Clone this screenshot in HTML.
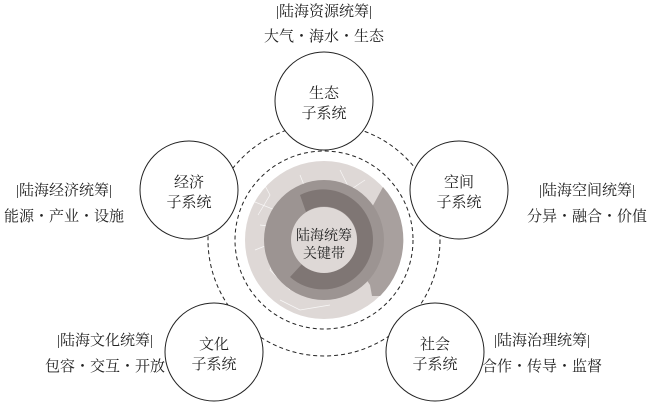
<!DOCTYPE html>
<html><head><meta charset="utf-8"><style>
html,body{margin:0;padding:0;background:#fff;}
svg text{font-family:"Liberation Serif","Noto Serif CJK SC",serif;fill:#222;}
</style></head><body>
<svg width="650" height="404" viewBox="0 0 650 404" xmlns="http://www.w3.org/2000/svg">
<circle cx="324" cy="240" r="116" fill="none" stroke="#222" stroke-width="1" stroke-dasharray="4,3"/>
<circle cx="324" cy="240" r="89" fill="none" stroke="#222" stroke-width="1" stroke-dasharray="4,3"/>
<circle cx="324" cy="240" r="79" fill="#ded8d6"/>
<path d="M383 187 A79 79 0 0 1 380 296 L372 296 L370 285 L360 270 L365 220 Z" fill="#a8a09e"/>
<g stroke="#fff" stroke-width="0.7" fill="none" opacity="0.8">
<path d="M250 200 L275 210 L300 195 L320 205"/><path d="M255 250 L280 240 L270 270 L290 290"/>
<path d="M300 175 L310 200 L295 230"/><path d="M260 225 L285 228"/><path d="M340 170 L350 190 L365 180"/>
<path d="M280 300 L300 310 L330 305"/><path d="M262 180 L270 195 L258 215"/>
</g>
<circle cx="324" cy="240" r="60" fill="#9c9492"/>
<path d="M300 195 A50 50 0 1 1 290 277 L302 264 A33 33 0 1 0 306 212 Z" fill="#7f7674"/>
<circle cx="324" cy="240" r="33" fill="#ded8d6"/>
<text x="324" y="240" font-size="14" text-anchor="middle">陆海统筹</text>
<text x="324" y="258" font-size="14" text-anchor="middle">关键带</text>
<g fill="#fff" stroke="#222" stroke-width="1">
<circle cx="324" cy="101" r="49"/><circle cx="189" cy="190" r="49"/><circle cx="459" cy="190" r="49"/>
<circle cx="214" cy="352" r="49"/><circle cx="435" cy="352" r="49"/>
</g>
<g font-size="15" text-anchor="middle">
<text x="324" y="98">生态</text><text x="324" y="118">子系统</text>
<text x="189" y="187">经济</text><text x="189" y="207">子系统</text>
<text x="459" y="187">空间</text><text x="459" y="207">子系统</text>
<text x="214" y="349">文化</text><text x="214" y="369">子系统</text>
<text x="435" y="349">社会</text><text x="435" y="369">子系统</text>
<text x="324" y="16">|陆海资源统筹|</text><text x="324" y="41">大气・海水・生态</text>
<text x="64" y="195">|陆海经济统筹|</text><text x="64" y="221">能源・产业・设施</text>
<text x="587" y="195">|陆海空间统筹|</text><text x="587" y="221">分异・融合・价值</text>
<text x="105" y="345">|陆海文化统筹|</text><text x="105" y="371">包容・交互・开放</text>
<text x="542" y="345">|陆海治理统筹|</text><text x="542" y="371">合作・传导・监督</text>
</g>
</svg>
</body></html>
